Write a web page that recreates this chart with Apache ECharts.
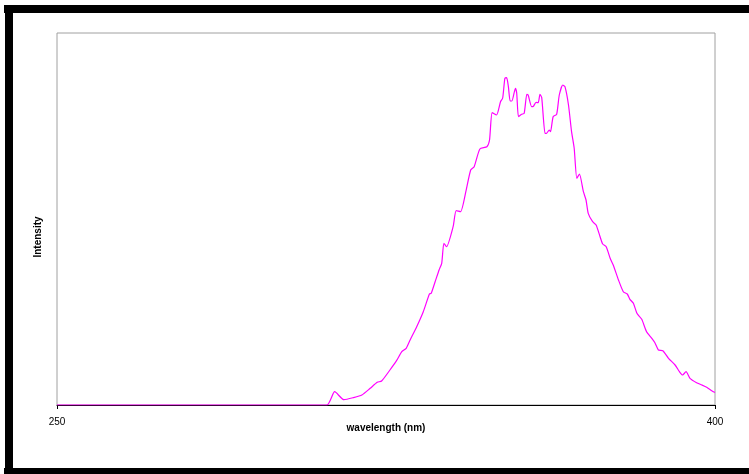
<!DOCTYPE html>
<html>
<head>
<meta charset="utf-8">
<script src="https://cdn.jsdelivr.net/npm/echarts@6/dist/echarts.min.js"></script>
<style>
html,body{margin:0;padding:0;background:#fff;}
#c{width:749px;height:474px;}
</style>
</head>
<body>
<div id="c"></div>
<script>
var wavelength = [250, 311.5, 313.3, 315.4, 317.5, 319.5, 321.4, 323.0, 324.0, 325.9, 327.4, 328.6, 329.6, 330.5, 332.0, 333.5, 334.9, 335.3, 336.2, 337.1, 337.7, 338.2, 338.8, 340.3, 341.0, 342.0, 343.2, 344.3, 345.1, 346.4, 348.0, 348.6, 349.2, 350.2, 351.1, 351.6, 352.1, 352.5, 352.9, 353.3, 353.7, 354.5, 354.8, 355.2, 355.9, 356.5, 357.1, 357.4, 358.2, 358.6, 359.2, 359.7, 360.1, 360.5, 361.25, 361.6, 362.2, 362.5, 363.1, 363.9, 364.5, 365.3, 365.8, 366.6, 367.3, 367.9, 368.5, 369.1, 370.0, 370.6, 371.1, 372.1, 372.9, 373.8, 374.4, 375.2, 376.1, 376.8, 378.0, 379.1, 380.0, 380.6, 381.4, 382.2, 383.3, 384.4, 385.6, 386.3, 387.1, 388.1, 389.4, 390.9, 391.9, 392.6, 393.4, 394.3, 395.8, 397.0, 398.1, 399.25, 400];
var intensity = [0, 0, 13.3, 5.3, 7.3, 10, 16.7, 22.7, 24, 35, 44.3, 53.3, 56.7, 65, 78.3, 93.3, 111, 111.7, 123.3, 135, 141.7, 161.7, 158.3, 178.3, 194.3, 193.3, 213.3, 235, 238.3, 256, 258.3, 265, 292.3, 290, 303.3, 307, 326.7, 327.3, 318.3, 304, 304, 316.7, 311.7, 288.3, 290.7, 291.7, 310.7, 310, 298.3, 298.7, 302.7, 302.3, 310.7, 307.3, 271.7, 271.7, 275, 273.3, 288.3, 290.7, 310, 320, 318.3, 300, 273.3, 256.7, 226.7, 231, 213.3, 205, 191.7, 183.3, 180, 168.3, 161, 158.3, 146.7, 140, 125, 113.3, 111, 105.7, 101.7, 91.7, 85.7, 73.3, 66.7, 62.3, 55, 54.3, 46.7, 40, 33.3, 30, 33.3, 26.7, 22.3, 20, 17.7, 14.3, 12.5];
var xTicks = [250, 400];
var xTitle = 'wavelength (nm)';
var yTitle = 'Intensity';

var seriesData = wavelength.map(function (w, i) { return [w, intensity[i]]; });

var chart = echarts.init(document.getElementById('c'), null, {renderer: 'canvas'});
chart.setOption({
  backgroundColor: '#ffffff',
  animation: false,
  grid: {
    left: 57, right: 34, top: 33, bottom: 69,
    show: true, borderColor: '#a0a0a0', borderWidth: 1, backgroundColor: 'transparent'
  },
  xAxis: {
    type: 'value',
    min: xTicks[0], max: xTicks[1], interval: xTicks[1] - xTicks[0],
    axisLine: {show: true, lineStyle: {color: '#000', width: 1}},
    axisTick: {show: true, length: 4, lineStyle: {color: '#000'}},
    axisLabel: {margin: 12, fontFamily: 'Liberation Sans', fontSize: 10, color: '#000'},
    splitLine: {show: false}
  },
  yAxis: {
    type: 'value', min: 0, max: 372,
    axisLine: {show: false}, axisTick: {show: false}, axisLabel: {show: false},
    splitLine: {show: false}
  },
  graphic: [
    {type: 'rect', shape: {x: 4, y: 5, width: 745, height: 8}, style: {fill: '#000'}, silent: true},
    {type: 'rect', shape: {x: 5, y: 5, width: 8, height: 469}, style: {fill: '#000'}, silent: true},
    {type: 'rect', shape: {x: 4, y: 468, width: 745, height: 6}, style: {fill: '#000'}, silent: true},
    {type: 'text', x: 386, y: 428,
     style: {text: xTitle, fontFamily: 'Liberation Sans', fontSize: 10, fontWeight: 'bold', fill: '#000', align: 'center', verticalAlign: 'middle'}},
    {type: 'text', x: 38, y: 237, rotation: Math.PI / 2,
     style: {text: yTitle, fontFamily: 'Liberation Sans', fontSize: 10, fontWeight: 'bold', fill: '#000', align: 'center', verticalAlign: 'middle'}}
  ],
  series: [{
    type: 'line',
    data: seriesData,
    showSymbol: false,
    smooth: 0.2,
    lineStyle: {color: '#ff00ff', width: 1.2},
    z: 5
  }]
});
</script>
</body>
</html>
